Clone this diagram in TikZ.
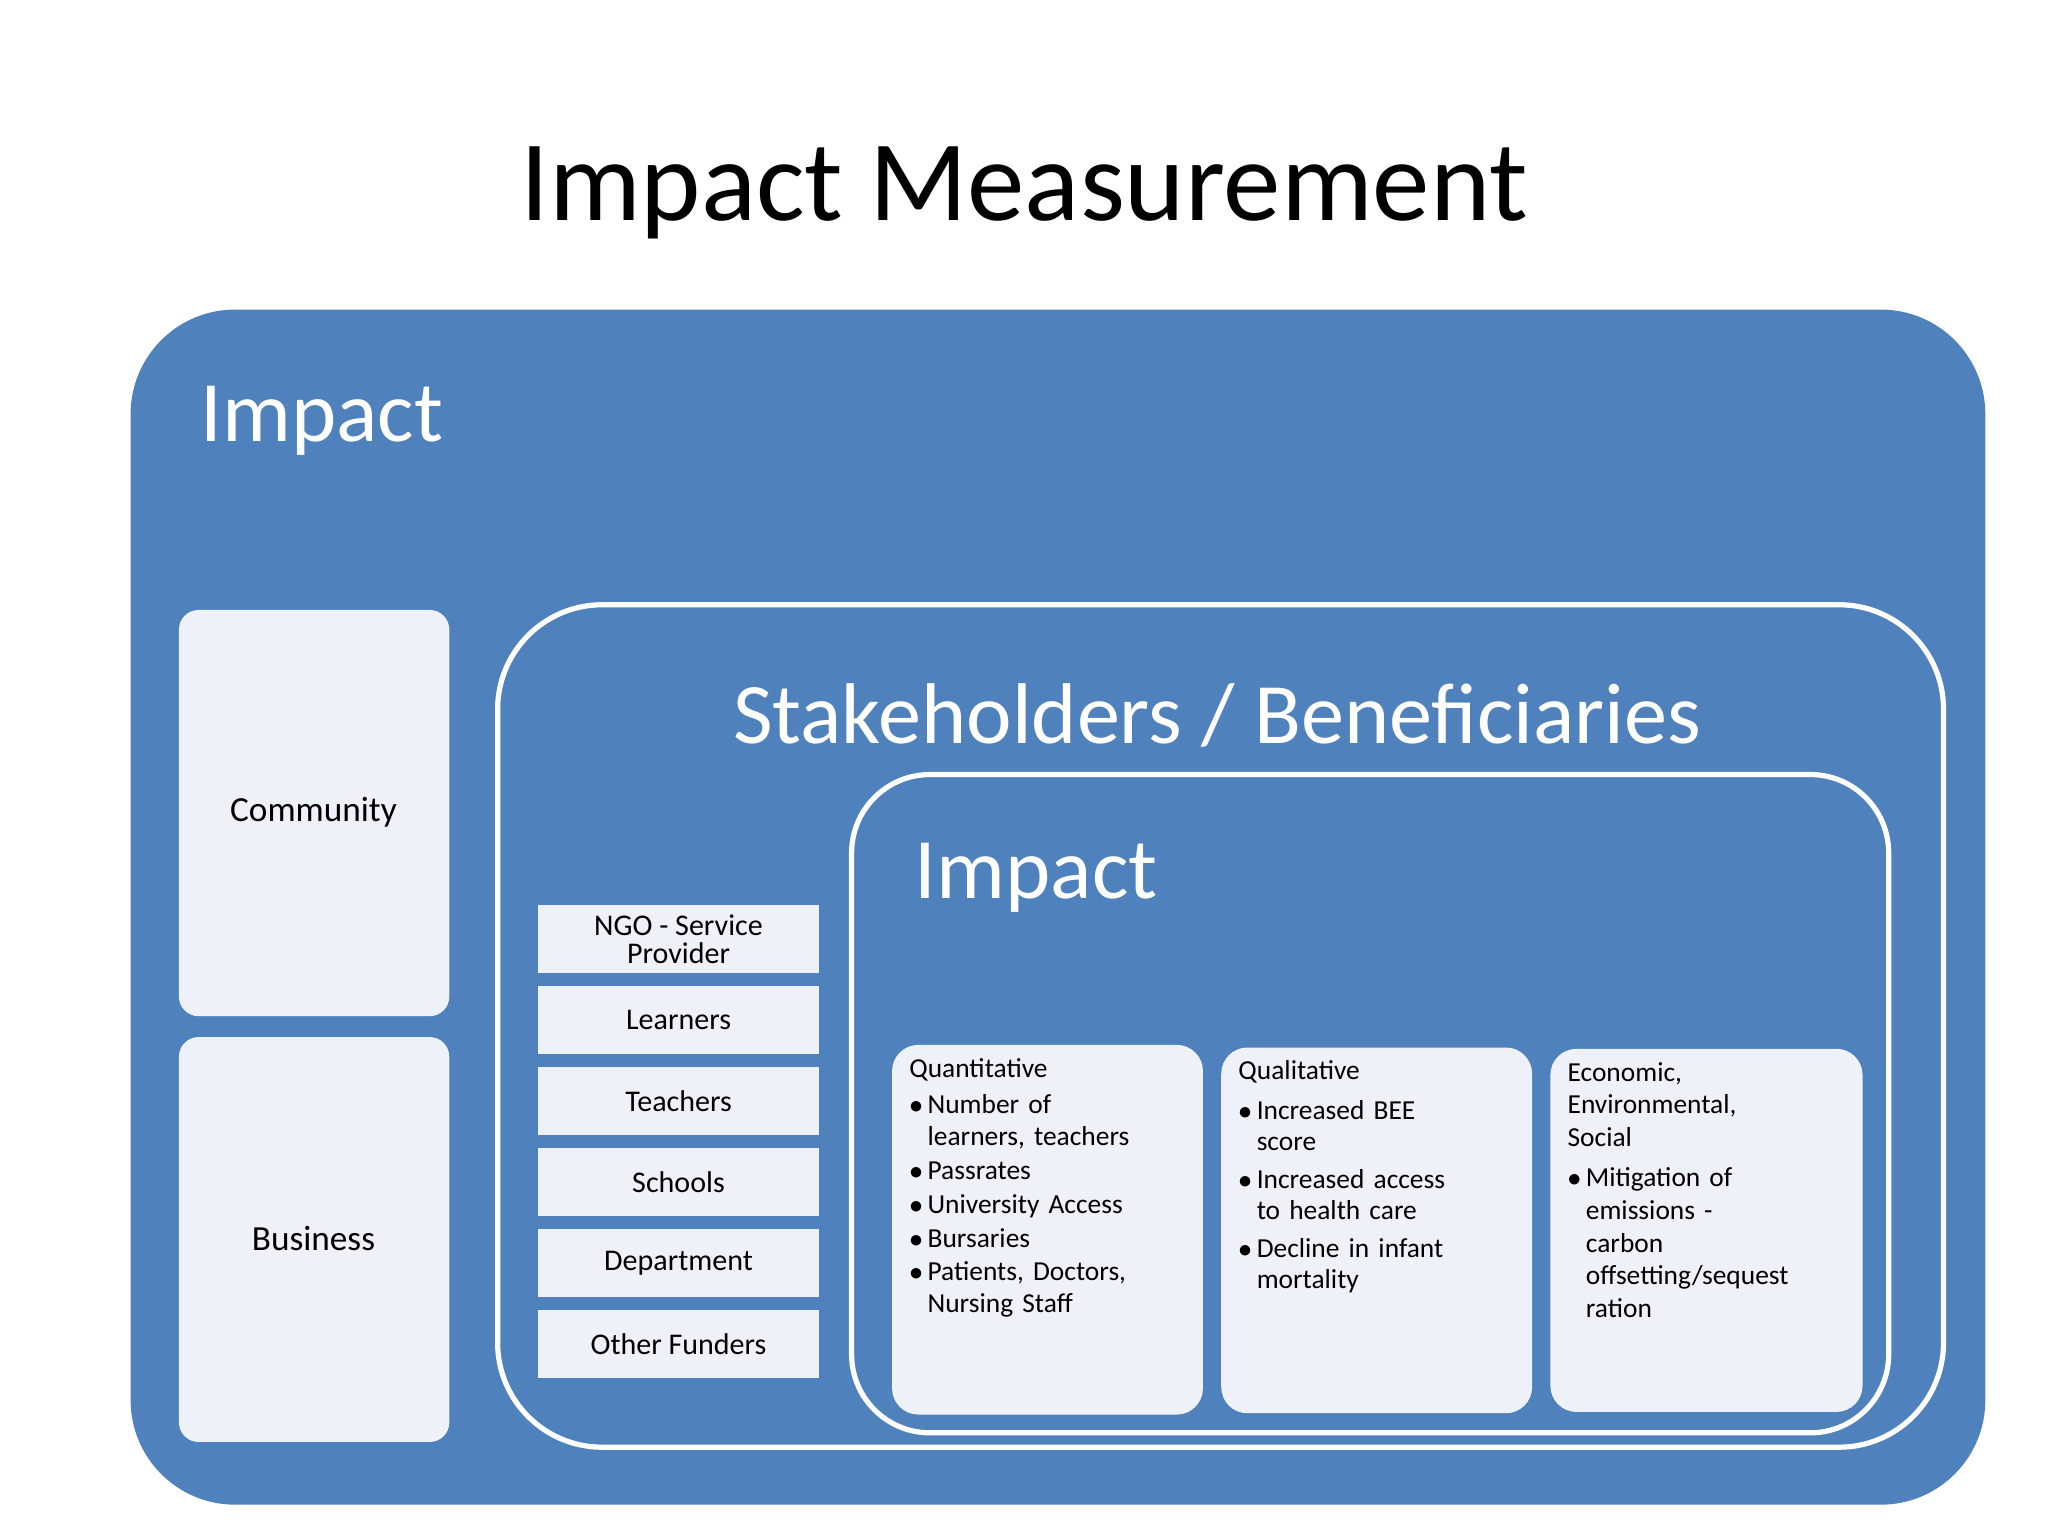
\documentclass[tikz,border=0pt]{standalone}
\usepackage{fontspec}
\setmainfont{Carlito}
\definecolor{blu}{RGB}{79,129,189}
\definecolor{lite}{RGB}{238,242,248}
\begin{document}
\begin{tikzpicture}[x=1pt,y=-1pt,
  lbox/.style={fill=lite,draw=none},
  sbox/.style={fill=lite,draw=none,minimum width=215pt,minimum height=52pt,font=\fontsize{23}{24}\selectfont,align=center,inner sep=0pt},
  tbox/.style={font=\fontsize{21}{24}\selectfont,align=left,anchor=north west,inner sep=0pt,text width=215pt}]
\useasboundingbox (0,0) rectangle (1568,1176);
\node (title) at (784,148) {\fontsize{88}{90}\selectfont Impact Measurement};
\fill[blu,rounded corners=80pt] (100,237) rectangle (1520,1152);
\node[white,anchor=west] (imp1) at (150,322) {\fontsize{66}{70}\selectfont Impact};
\fill[lite,rounded corners=15pt] (137,467) rectangle (344,778);
\node (comm) at (240,622) {\fontsize{27}{30}\selectfont Community};
\fill[lite,rounded corners=15pt] (137,794) rectangle (344,1104);
\node (bus) at (240,948) {\fontsize{27}{30}\selectfont Business};
\draw[white,line width=4pt,rounded corners=80pt] (381,463) rectangle (1488,1108);
\node[white] (stake) at (932,548) {\fontsize{66}{70}\selectfont Stakeholders / Beneficiaries};
\draw[white,line width=4pt,rounded corners=60pt] (652,593) rectangle (1446,1097);
\node[white,anchor=west] (imp2) at (697,672) {\fontsize{66}{70}\selectfont Impact};
\node[sbox] (ngo) at (519.5,719) {NGO - Service\\[-3pt]Provider};
\node[sbox] (lea) at (519.5,781) {Learners};
\node[sbox] (tea) at (519.5,843) {Teachers};
\node[sbox] (sch) at (519.5,905) {Schools};
\node[sbox] (dep) at (519.5,967) {Department};
\node[sbox] (oth) at (519.5,1029) {Other Funders};
\fill[lite,rounded corners=20pt] (683,800) rectangle (921,1083);
\fill[lite,rounded corners=20pt] (935,802) rectangle (1173,1082);
\fill[lite,rounded corners=20pt] (1187,803) rectangle (1426,1081);
\node[tbox] (q1) at (696,810) {Quantitative\\[4pt]
 \makebox[14pt][l]{$\bullet$}Number of\\\hspace*{14pt}learners, teachers\\[2pt]
 \makebox[14pt][l]{$\bullet$}Passrates\\[2pt]
 \makebox[14pt][l]{$\bullet$}University Access\\[2pt]
 \makebox[14pt][l]{$\bullet$}Bursaries\\[2pt]
 \makebox[14pt][l]{$\bullet$}Patients, Doctors,\\\hspace*{14pt}Nursing Staff};
\node[tbox] (q2) at (948,812) {Qualitative\\[6pt]
 \makebox[14pt][l]{$\bullet$}Increased BEE\\\hspace*{14pt}score\\[5pt]
 \makebox[14pt][l]{$\bullet$}Increased access\\\hspace*{14pt}to health care\\[5pt]
 \makebox[14pt][l]{$\bullet$}Decline in infant\\\hspace*{14pt}mortality};
\node[tbox] (q3) at (1200,813) {Economic,\\[1pt]Environmental,\\[1pt]Social\\[7pt]
 \makebox[14pt][l]{$\bullet$}Mitigation of\\[1pt]\hspace*{14pt}emissions -\\[1pt]\hspace*{14pt}carbon\\[1pt]\hspace*{14pt}offsetting/sequest\\[1pt]\hspace*{14pt}ration};
\end{tikzpicture}
\end{document}
